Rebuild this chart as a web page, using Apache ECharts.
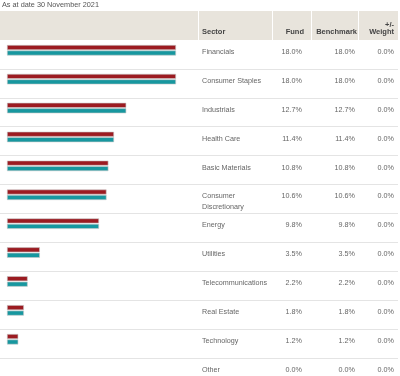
<!DOCTYPE html>
<html><head><meta charset="utf-8">
<script src="https://cdn.jsdelivr.net/npm/echarts@6/dist/echarts.min.js"></script>
<style>html,body{margin:0;padding:0;background:#fff;overflow:hidden}#c{width:400px;height:400px}</style>
</head><body><div id="c"></div>
<script>
var title = 'As at date 30 November 2021';
var headers = ['Sector', 'Fund', 'Benchmark', '+/-\nWeight'];
var sectors = ['Financials', 'Consumer Staples', 'Industrials', 'Health Care', 'Basic Materials',
  'Consumer Discretionary', 'Energy', 'Utilities', 'Telecommunications', 'Real Estate', 'Technology', 'Other'];
var fund = [18.0, 18.0, 12.7, 11.4, 10.8, 10.6, 9.8, 3.5, 2.2, 1.8, 1.2, 0.0];
var benchmark = [18.0, 18.0, 12.7, 11.4, 10.8, 10.6, 9.8, 3.5, 2.2, 1.8, 1.2, 0.0];
var weight = [0.0, 0.0, 0.0, 0.0, 0.0, 0.0, 0.0, 0.0, 0.0, 0.0, 0.0, 0.0];

var FONT = 'Liberation Sans, Arial, sans-serif';
var ROW = 28.9, TOP = 40, N = sectors.length;
var txt = '#666', hdr = '#444';
var fmt = function (v) { return v.toFixed(1) + '%'; };
function barData(arr) {
  return arr.map(function (v) { return v === 0 ? {value: v, itemStyle: {borderWidth: 0}} : v; });
}

var chart = echarts.init(document.getElementById('c'), null, {renderer: 'canvas'});
chart.setOption({
  animation: false,
  backgroundColor: '#fff',
  textStyle: {fontFamily: FONT},
  grid: [
    {left: 7, width: 169, top: TOP - 4.2, height: ROW * N},
    {left: 0, width: 398, top: TOP, height: ROW * N}
  ],
  xAxis: [
    {gridIndex: 0, type: 'value', min: 0, max: 18, show: false},
    {gridIndex: 1, type: 'value', min: 0, max: 398, show: false}
  ],
  yAxis: [
    {gridIndex: 0, type: 'category', data: sectors, inverse: true, show: false},
    {gridIndex: 1, type: 'category', data: sectors, inverse: true,
      axisLine: {show: false}, axisTick: {show: false}, axisLabel: {show: false},
      splitLine: {show: true, interval: function (i) { return i > 0; }, lineStyle: {color: '#e4e4e4', width: 1}}}
  ],
  series: [
    {type: 'bar', name: 'Fund', xAxisIndex: 0, yAxisIndex: 0, data: barData(fund), barWidth: 5, barGap: '10%',
      itemStyle: {color: '#9b1b21', borderColor: '#c9c9c9', borderWidth: 0.6}, silent: true},
    {type: 'bar', name: 'Benchmark', xAxisIndex: 0, yAxisIndex: 0, data: barData(benchmark), barWidth: 5, barGap: '10%',
      itemStyle: {color: '#17979f', borderColor: '#c9c9c9', borderWidth: 0.6}, silent: true},
    {type: 'custom', xAxisIndex: 1, yAxisIndex: 1, silent: true,
      data: sectors.map(function (s, i) { return [0, i]; }),
      renderItem: function (params, api) {
        var i = api.value(1);
        var c = api.coord([0, i]);
        var y = c[1] - ROW / 2 + 12;
        var base = {fontFamily: FONT, fontSize: 7.2, fill: txt, verticalAlign: 'middle', lineHeight: 10.5};
        function t(x, str, align, extra) {
          return {type: 'text', style: Object.assign({}, base, {x: x, y: y, text: str, align: align}, extra || {})};
        }
        var name = sectors[i];
        var multi = name.length > 20;
        return {type: 'group', children: [
          t(202, name, 'left', multi ? {width: 66, overflow: 'break', verticalAlign: 'top', y: y - 5.5} : null),
          t(302, fmt(fund[i]), 'right'),
          t(355, fmt(benchmark[i]), 'right'),
          t(394, fmt(weight[i]), 'right')
        ]};
      }
    }
  ],
  graphic: [
    {type: 'text', left: 2, top: 1, style: {text: title, fontFamily: FONT, fontSize: 7.3, fill: '#555'}},
    {type: 'rect', shape: {x: 0, y: 11, width: 398, height: 29}, style: {fill: '#e8e4dc'}, z: 10},
    {type: 'line', shape: {x1: 198.5, y1: 11, x2: 198.5, y2: 40}, style: {stroke: '#fff', lineWidth: 1}, z: 11},
    {type: 'line', shape: {x1: 272.5, y1: 11, x2: 272.5, y2: 40}, style: {stroke: '#fff', lineWidth: 1}, z: 11},
    {type: 'line', shape: {x1: 311.5, y1: 11, x2: 311.5, y2: 40}, style: {stroke: '#fff', lineWidth: 1}, z: 11},
    {type: 'line', shape: {x1: 358.5, y1: 11, x2: 358.5, y2: 40}, style: {stroke: '#fff', lineWidth: 1}, z: 11},
    {type: 'text', z: 12, style: {x: 202, y: 32, text: headers[0], align: 'left', verticalAlign: 'middle', fontFamily: FONT, fontSize: 7.5, fontWeight: 'bold', fill: hdr}},
    {type: 'text', z: 12, style: {x: 304, y: 32, text: headers[1], align: 'right', verticalAlign: 'middle', fontFamily: FONT, fontSize: 7.5, fontWeight: 'bold', fill: hdr}},
    {type: 'text', z: 12, style: {x: 357, y: 32, text: headers[2], align: 'right', verticalAlign: 'middle', fontFamily: FONT, fontSize: 7.5, fontWeight: 'bold', fill: hdr}},
    {type: 'text', z: 12, style: {x: 394, y: 28.5, text: headers[3], align: 'right', verticalAlign: 'middle', fontFamily: FONT, fontSize: 7.5, fontWeight: 'bold', fill: hdr, lineHeight: 7.5}}
  ]
});
</script></body></html>
